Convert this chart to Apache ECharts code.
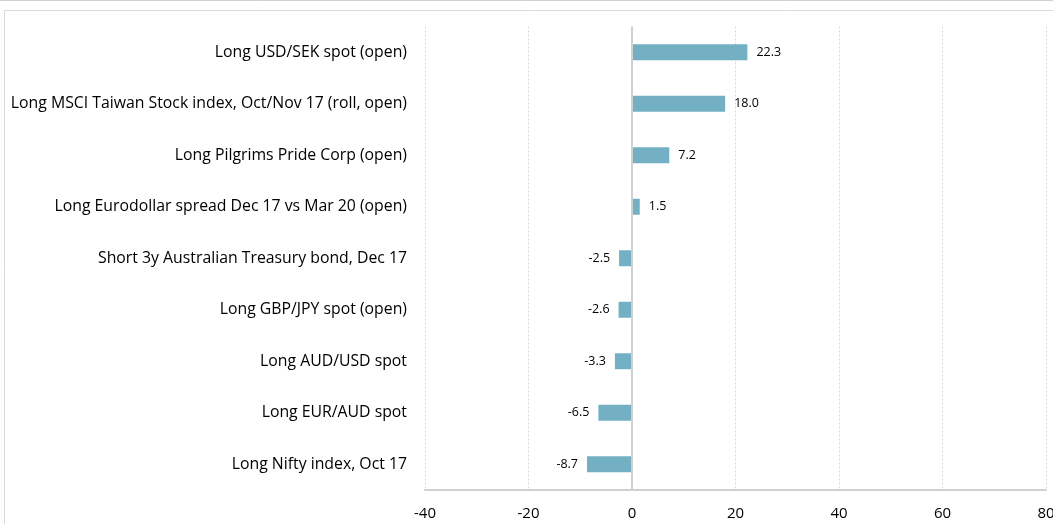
<!DOCTYPE html>
<html>
<head>
<meta charset="utf-8">
<script src="https://cdn.jsdelivr.net/npm/echarts@6/dist/echarts.min.js"></script>
<style>
  html, body { margin: 0; padding: 0; background: #fff; }
  #chart { width: 1053px; height: 524px; }
</style>
</head>
<body>
<div id="chart"></div>
<script>
// Trade ideas, listed top to bottom
const categories = [
  'Long USD/SEK spot (open)',
  'Long MSCI Taiwan Stock index, Oct/Nov 17 (roll, open)',
  'Long Pilgrims Pride Corp (open)',
  'Long Eurodollar spread Dec 17 vs Mar 20 (open)',
  'Short 3y Australian Treasury bond, Dec 17',
  'Long GBP/JPY spot (open)',
  'Long AUD/USD spot',
  'Long EUR/AUD spot',
  'Long Nifty index, Oct 17'
];
const returns = [22.3, 18.0, 7.2, 1.5, -2.5, -2.6, -3.3, -6.5, -8.7];
const axisMin = -40, axisMax = 80, axisStep = 20;

const font = '"Open Sans", "Noto Sans", sans-serif';
const chart = echarts.init(document.getElementById('chart'), null, { renderer: 'canvas' });

chart.setOption({
  animation: false,
  backgroundColor: '#ffffff',
  graphic: [
    { type: 'line', shape: { x1: 0, y1: 0.5, x2: 1053, y2: 0.5 }, style: { stroke: '#d0d0d0', lineWidth: 1 } },
    { type: 'rect', shape: { x: 4.5, y: 10.5, width: 1060, height: 530 }, style: { fill: 'none', stroke: '#d9d9d9', lineWidth: 1 } }
  ],
  grid: { left: 425, right: 7, top: 26.5, bottom: 34, containLabel: false, outerBoundsMode: 'none' },
  xAxis: {
    type: 'value',
    min: axisMin, max: axisMax, interval: axisStep,
    axisLine: { show: true, onZero: false, lineStyle: { color: '#d0d0d0', width: 2 } },
    axisTick: { show: false },
    axisLabel: { color: '#000', fontFamily: font, fontSize: 15, margin: 16, alignMinLabel: 'center', alignMaxLabel: 'center' },
    splitLine: { show: true, lineStyle: { color: '#d9d9d9', type: [2, 2], width: 1 } }
  },
  yAxis: {
    type: 'category',
    data: categories,
    inverse: true,
    axisLine: { show: false, onZero: false },
    axisTick: { show: false },
    axisLabel: { color: '#000', fontFamily: font, fontSize: 15.8, margin: 18 },
    splitLine: { show: false }
  },
  series: [{
    type: 'bar',
    data: returns.map(v => ({
      value: v,
      label: { position: v >= 0 ? 'right' : 'left' }
    })),
    barWidth: 16,
    itemStyle: { color: '#74b0c4' },
    label: {
      show: true,
      distance: 9,
      color: '#000',
      fontFamily: font,
      fontSize: 12.5,
      formatter: p => p.value.toFixed(1)
    },
    markLine: {
      silent: true,
      symbol: 'none',
      label: { show: false },
      lineStyle: { color: '#d0d0d0', type: 'solid', width: 2 },
      data: [{ xAxis: 0 }]
    }
  }]
});
</script>
</body>
</html>
